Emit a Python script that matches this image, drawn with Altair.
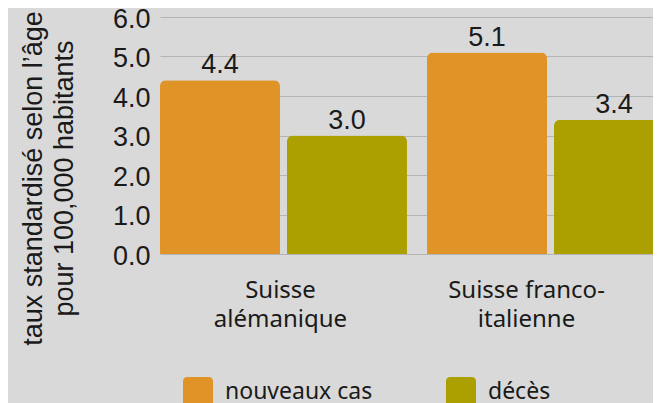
import altair as alt
import pandas as pd

regions = ["Suisse alémanique", "Suisse franco-italienne"]
series = ["nouveaux cas", "décès"]
nouveaux_cas = [4.4, 5.1]
deces = [3.0, 3.4]
colors = ["#E09428", "#ABA000"]
y_ticks = [0, 1, 2, 3, 4, 5, 6]

rows = []
for i, r in enumerate(regions):
    rows.append({"region": r, "serie": series[0], "valeur": nouveaux_cas[i]})
    rows.append({"region": r, "serie": series[1], "valeur": deces[i]})
df = pd.DataFrame(rows)

NUM_FONT = "Liberation Sans"
TXT_FONT = "Noto Sans"
INK = "#1a1a1a"
rounded = "M -0.7 -1 H 0.7 Q 1 -1 1 -0.7 V 0.7 Q 1 1 0.7 1 H -0.7 Q -1 1 -1 0.7 V -0.7 Q -1 -1 -0.7 -1 Z"

x = alt.X(
    "region:N",
    sort=regions,
    title=None,
    scale=alt.Scale(paddingInner=0.075, paddingOuter=0, range=[0, 514]),
    axis=alt.Axis(
        labelAngle=0,
        domain=False,
        ticks=False,
        labelPadding=24,
        labelFontSize=24,
        labelLineHeight=29,
        labelColor=INK,
        labelFont=TXT_FONT,
        labelExpr="datum.label == 'Suisse alémanique' ? ['Suisse', 'alémanique'] : ['Suisse franco-', 'italienne']",
        labelOffset={"condition": {"test": "datum.label == 'Suisse franco-italienne'", "value": -24}, "value": -3},
    ),
)
xo = alt.XOffset("serie:N", sort=series, scale=alt.Scale(paddingInner=0.055, paddingOuter=0))
y = alt.Y(
    "valeur:Q",
    scale=alt.Scale(domain=[0, 6], nice=False),
    title=["taux standardisé selon l’âge", "pour 100,000 habitants"],
    axis=alt.Axis(
        values=y_ticks,
        format=".1f",
        domain=False,
        ticks=False,
        labelPadding=10,
        labelOffset=2,
        labelFontSize=27,
        labelColor=INK,
        labelFont=NUM_FONT,
        gridColor="#b4b4b4",
        gridWidth=1.2,
        titleFontSize=27,
        titleFontWeight="normal",
        titleFont=NUM_FONT,
        titleColor=INK,
        titleLineHeight=31,
        titlePadding=34,
        titleY=161,
    ),
)
color = alt.Color(
    "serie:N",
    sort=series,
    scale=alt.Scale(domain=series, range=colors),
    legend=alt.Legend(
        title=None,
        orient="none",
        legendX=23,
        legendY=360,
        direction="horizontal",
        columns=2,
        columnPadding=73,
        symbolType=rounded,
        symbolSize=900,
        symbolStrokeWidth=0,
        symbolOpacity=1,
        labelFontSize=23,
        labelFont=TXT_FONT,
        labelColor=INK,
        labelOffset=12,
    ),
)

base = alt.Chart(df)
bars = base.mark_bar(cornerRadiusTopLeft=6, cornerRadiusTopRight=6).encode(x=x, xOffset=xo, y=y, color=color)
labels = base.mark_text(baseline="alphabetic", dy=-7, fontSize=27, font=NUM_FONT, color=INK).encode(
    x=x, xOffset=xo, y=y, text=alt.Text("valeur:Q", format=".1f")
)

chart = (
    alt.layer(bars, labels)
    .properties(
        width=493,
        height=237,
        background="#d9d9d9",
        autosize=alt.AutoSizeParams(type="none"),
        padding={"top": 9, "left": 152, "right": 0, "bottom": 160},
    )
    .configure_view(stroke=None)
)
chart.save("out.html", embed_options={"renderer": "svg", "actions": False})
